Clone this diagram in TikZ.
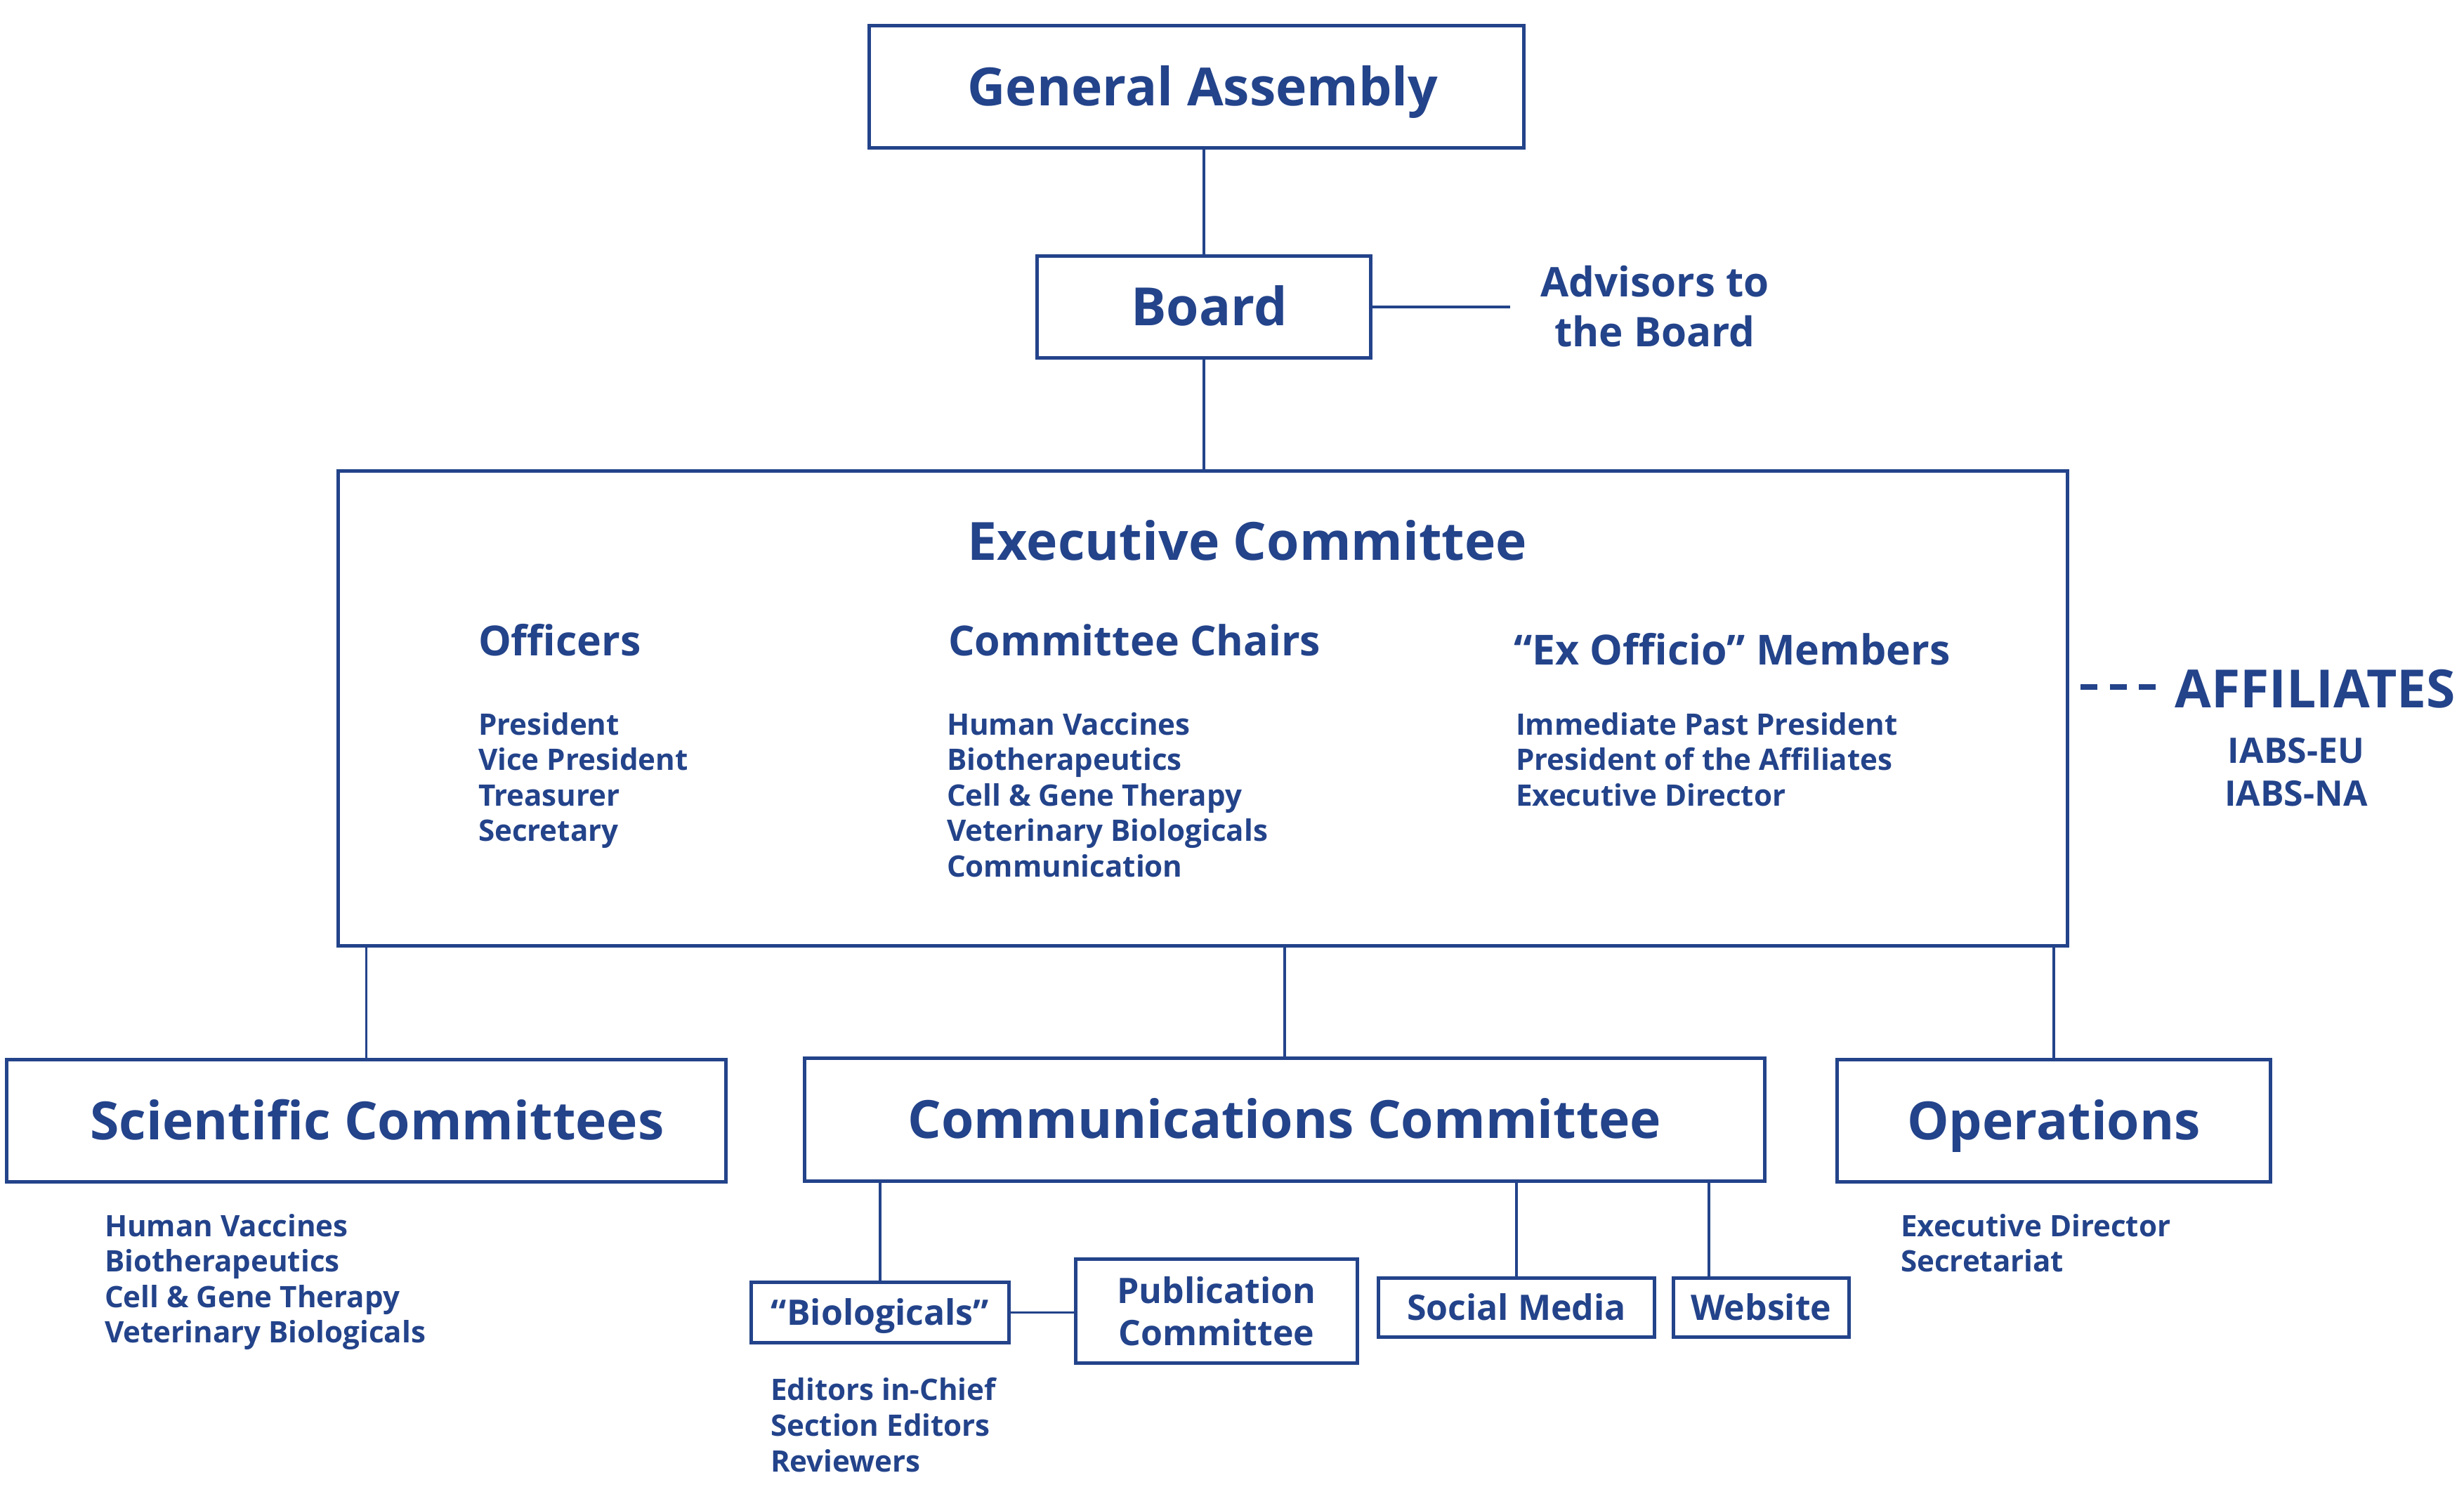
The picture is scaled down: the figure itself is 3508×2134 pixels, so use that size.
\documentclass[tikz,border=0pt]{standalone}
\usepackage{fontspec}
\setmainfont{Open Sans}
\definecolor{iabs}{RGB}{35,67,138}
\tikzset{
  boxbase/.style={draw=iabs, line width=0.85pt, inner sep=0pt, text=iabs, align=center},
  bigbox/.style={boxbase, font=\fontsize{15}{18}\selectfont\bfseries, text height=10.7pt, text depth=0pt},
  smallbox/.style={boxbase, font=\fontsize{10}{12}\selectfont\bfseries, text height=7.14pt, text depth=0pt},
  link/.style={draw=iabs, line width=0.65pt},
  dashlink/.style={draw=iabs, line width=1.7pt, dash pattern=on 4.8pt off 3.5pt},
  listtext/.style={text=iabs, inner sep=0pt, font=\fontsize{8.42}{10}\selectfont\bfseries, anchor=base west},
  headtext/.style={text=iabs, inner sep=0pt, font=\fontsize{11.8}{14}\selectfont\bfseries, anchor=base west},
  advtext/.style={text=iabs, inner sep=0pt, font=\fontsize{11.65}{14}\selectfont\bfseries, anchor=base},
  affbig/.style={text=iabs, inner sep=0pt, font=\fontsize{15}{18}\selectfont\bfseries, anchor=base},
  affsmall/.style={text=iabs, inner sep=0pt, font=\fontsize{10}{12}\selectfont\bfseries, anchor=base},
  titletext/.style={text=iabs, inner sep=0pt, font=\fontsize{15}{18}\selectfont\bfseries, anchor=base},
}
\begin{document}
\begin{tikzpicture}[x=0.2pt,y=-0.2pt]
\useasboundingbox (0,0) rectangle (3508,2134);

% main boxes
\node[bigbox, minimum width=186.4pt, minimum height=34.8pt] (ga) at (1703.5,123.5) {\hspace*{3.6pt}General Assembly};
\node[bigbox, minimum width=95pt, minimum height=29pt] (board) at (1714,437) {\hspace*{3pt}Board};
\node[boxbase, minimum width=492.4pt, minimum height=135.2pt] (ec) at (1712.5,1008.5) {};
\node[bigbox, minimum width=204.8pt, minimum height=34.8pt] (sci) at (521.5,1595.5) {\hspace*{6.2pt}Scientific Committees};
\node[bigbox, minimum width=273.4pt, minimum height=35pt] (comm) at (1829,1594) {Communications Committee};
\node[bigbox, minimum width=123.4pt, minimum height=34.8pt] (ops) at (2924,1595.5) {Operations};

% sub boxes
\node[smallbox, minimum width=73.4pt, minimum height=17.2pt] (bio) at (1253,1868.5) {“Biologicals”};
\node[boxbase, font=\fontsize{10}{12}\selectfont\bfseries, minimum width=80.2pt, minimum height=29.6pt] (pub) at (1732,1866.5) {Publication\\Committee};
\node[smallbox, minimum width=78.6pt, minimum height=16.8pt] (social) at (2159,1861.5) {Social Media};
\node[smallbox, minimum width=50pt, minimum height=16.8pt] (web) at (2507.5,1861.5) {Website};

% advisors
\node[advtext] (adv1) at (2356,422) {Advisors to};
\node[advtext] (adv2) at (2356,493) {the Board};
\coordinate (advend) at (2150,437);

% executive committee contents
\node[titletext] (ectitle) at (1776,797) {Executive Committee};
\node[headtext] (offh) at (680,933) {Officers};
\node[headtext] (chh) at (1349,933) {Committee Chairs};
\node[headtext] (exh) at (2154,946) {“Ex Officio” Members};
\foreach \t [count=\i] in {President,Vice President,Treasurer,Secretary}
  \node[listtext] (off\i) at (680,{1046+(\i-1)*50.6}) {\t};
\foreach \t [count=\i] in {Human Vaccines,Biotherapeutics,Cell \& Gene Therapy,Veterinary Biologicals,Communication}
  \node[listtext] (ch\i) at (1347,{1046+(\i-1)*50.6}) {\t};
\foreach \t [count=\i] in {Immediate Past President,President of the Affiliates,Executive Director}
  \node[listtext] (ex\i) at (2157,{1046+(\i-1)*50.6}) {\t};

% lists below boxes
\foreach \t [count=\i] in {Human Vaccines,Biotherapeutics,Cell \& Gene Therapy,Veterinary Biologicals}
  \node[listtext] (sc\i) at (148,{1760+(\i-1)*50.6}) {\t};
\foreach \t [count=\i] in {Executive Director,Secretariat}
  \node[listtext] (op\i) at (2705,{1760+(\i-1)*50.6}) {\t};
\foreach \t [count=\i] in {Editors in-Chief,Section Editors,Reviewers}
  \node[listtext] (bl\i) at (1096,{1993+(\i-1)*51}) {\t};

% affiliates
\node[affbig] (aff) at (3296,1007) {AFFILIATES};
\node[affsmall] (iabseu) at (3269,1086) {IABS-EU};
\node[affsmall] (iabsna) at (3269,1147) {IABS-NA};
\coordinate (affdash) at (2962,978);
\coordinate (affdashend) at (3069,978);

% connectors
\draw[link] (board.north) -- (board.north |- ga.south);
\draw[link] (board.south) -- (board.south |- ec.north);
\draw[link] (board.east) -- (advend);
\draw[link] (sci.north) -- (sci.north |- ec.south);
\draw[link] (comm.north) -- (comm.north |- ec.south);
\draw[link] (ops.north) -- (ops.north |- ec.south);
\draw[link] (bio.north) -- (bio.north |- comm.south);
\draw[link] (bio.east) -- (bio.east -| pub.west);
\draw[link] (social.north) -- (social.north |- comm.south);
\coordinate (webx) at (2433,0);
\draw[link] (web.north -| webx) -- (comm.south -| webx);
\draw[dashlink] (affdash) -- (affdashend);
\end{tikzpicture}
\end{document}
